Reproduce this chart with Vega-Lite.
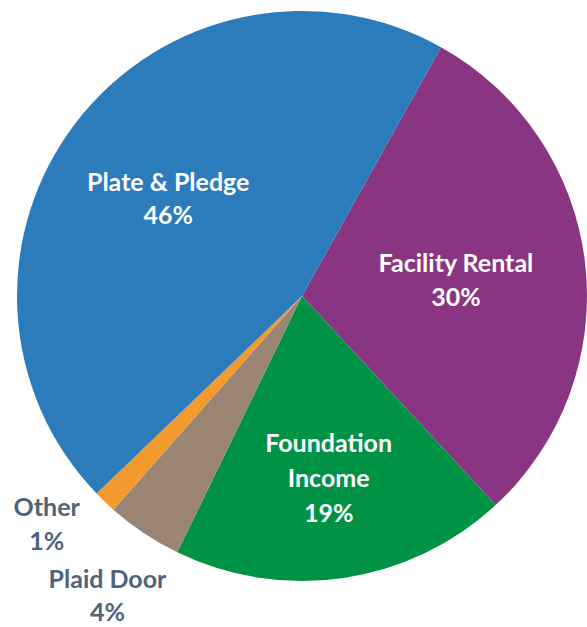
{
  "$schema": "https://vega.github.io/schema/vega-lite/v6.json",
  "width": 570,
  "height": 572,
  "autosize": {"type": "none"},
  "padding": {"left": 17, "top": 10, "right": 0, "bottom": 45},
  "background": "white",
  "config": {"view": {"stroke": null}},
  "data": {
    "values": [
      {"category": "Facility Rental", "share": 30.0, "rank": 1, "label": "Facility Rental\n30%"},
      {"category": "Foundation Income", "share": 19.1, "rank": 2, "label": "Foundation\nIncome\n19%"},
      {"category": "Plaid Door", "share": 4.3, "rank": 3, "label": "Plaid Door\n4%"},
      {"category": "Other", "share": 1.3, "rank": 4, "label": "Other\n1%"},
      {"category": "Plate & Pledge", "share": 45.3, "rank": 5, "label": "Plate & Pledge\n46%"}
    ]
  },
  "encoding": {
    "theta": {"field": "share", "type": "quantitative", "stack": true, "scale": {"range": [0.5096, 6.7928]}},
    "order": {"field": "rank", "type": "quantitative"}
  },
  "layer": [
    {
      "mark": {"type": "arc", "outerRadius": 285},
      "encoding": {
        "color": {
          "field": "category",
          "type": "nominal",
          "legend": null,
          "scale": {
            "domain": ["Facility Rental", "Foundation Income", "Plaid Door", "Other", "Plate & Pledge"],
            "range": ["#8a3582", "#009245", "#9a8575", "#f29a2e", "#2c7bbb"]
          }
        }
      }
    },
    {
      "mark": {"type": "text", "radius": 169, "dy": -10, "font": "Lato", "fontWeight": "bold", "fontSize": 25, "lineHeight": 33, "lineBreak": "\n", "fill": "white", "align": "center", "baseline": "middle"},
      "encoding": {"text": {"condition": {"test": "datum.category === 'Plate & Pledge'", "field": "label"}, "value": ""}}
    },
    {
      "mark": {"type": "text", "radius": 155, "dy": -14, "font": "Lato", "fontWeight": "bold", "fontSize": 25, "lineHeight": 34, "lineBreak": "\n", "fill": "white", "align": "center", "baseline": "middle"},
      "encoding": {"text": {"condition": {"test": "datum.category === 'Facility Rental'", "field": "label"}, "value": ""}}
    },
    {
      "mark": {"type": "text", "radius": 182, "dy": -32, "font": "Lato", "fontWeight": "bold", "fontSize": 25, "lineHeight": 35, "lineBreak": "\n", "fill": "white", "align": "center", "baseline": "middle"},
      "encoding": {"text": {"condition": {"test": "datum.category === 'Foundation Income'", "field": "label"}, "value": ""}}
    },
    {
      "mark": {"type": "text", "radius": 330, "dx": -27, "dy": -26, "font": "Lato", "fontWeight": "bold", "fontSize": 25, "lineHeight": 34, "lineBreak": "\n", "fill": "#4f6478", "align": "center", "baseline": "middle"},
      "encoding": {"text": {"condition": {"test": "datum.category === 'Other'", "field": "label"}, "value": ""}}
    },
    {
      "mark": {"type": "text", "radius": 356, "dx": 3, "dy": -12, "font": "Lato", "fontWeight": "bold", "fontSize": 25, "lineHeight": 33, "lineBreak": "\n", "fill": "#4f6478", "align": "center", "baseline": "middle"},
      "encoding": {"text": {"condition": {"test": "datum.category === 'Plaid Door'", "field": "label"}, "value": ""}}
    }
  ]
}
